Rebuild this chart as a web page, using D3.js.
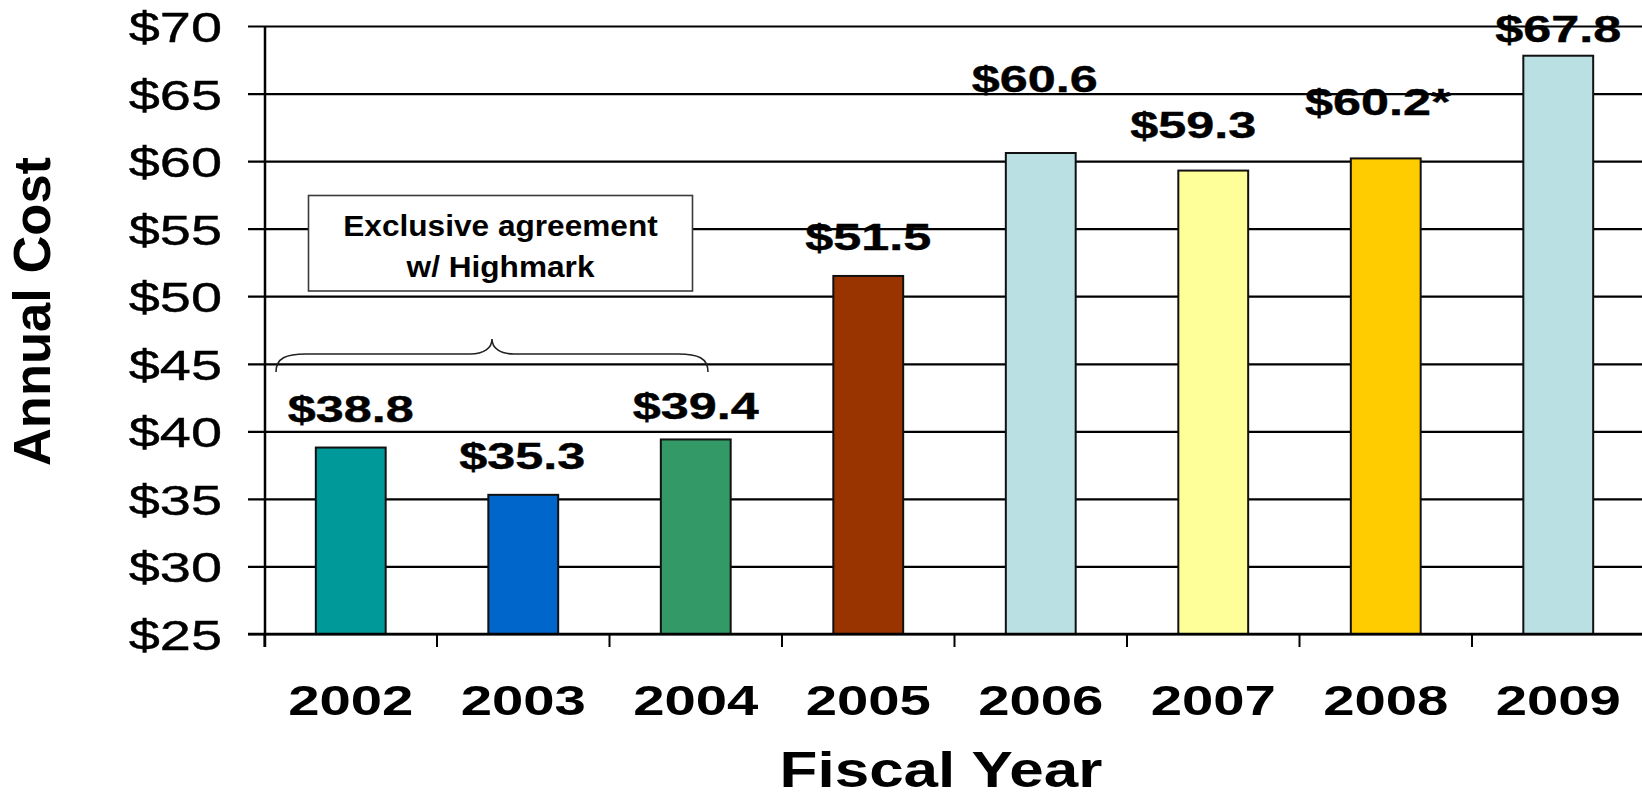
<!DOCTYPE html>
<html>
<head>
<meta charset="utf-8">
<script src="https://cdn.jsdelivr.net/npm/d3@7"></script>
<style>
  html, body { margin: 0; padding: 0; background: #fff; }
  svg { display: block; }
  text { font-family: "Liberation Sans", Arial, sans-serif; fill: #000; }
</style>
</head>
<body>
<svg id="chart" width="1642" height="798"></svg>
<script>
// Annual cost by fiscal year (millions of dollars)
const years = ["2002", "2003", "2004", "2005", "2006", "2007", "2008", "2009"];
const costs = [38.8, 35.3, 39.4, 51.5, 60.6, 59.3, 60.2, 67.8];
const costLabels = ["$38.8", "$35.3", "$39.4", "$51.5", "$60.6", "$59.3", "$60.2*", "$67.8"];
const barColors = ["#009999", "#0066CC", "#339966", "#993300", "#BBE0E3", "#FFFF99", "#FFCC00", "#BBE0E3"];
const yTicks = [25, 30, 35, 40, 45, 50, 55, 60, 65, 70];
const yTickLabels = ["$25", "$30", "$35", "$40", "$45", "$50", "$55", "$60", "$65", "$70"];
const noteLines = ["Exclusive agreement", "w/ Highmark"];

const svg = d3.select("#chart");
const W = 1642, H = 798;

const x = d3.scaleBand().domain(years).range([264.5, 1644.5]).padding(0);
const y = d3.scaleLinear().domain([25, 70]).range([634, 26]);
const barW = x.bandwidth() * 0.405;

// horizontal gridlines (extend left of the axis as tick marks)
const yAxis = d3.axisRight(y).tickValues(yTicks).tickSize(W - 248).tickFormat("");
svg.append("g")
  .attr("transform", "translate(248,0)")
  .call(yAxis)
  .call(g => g.select(".domain").remove())
  .call(g => g.selectAll(".tick line").attr("stroke", "#000").attr("stroke-width", 2.2));

// y tick labels, widened horizontally
svg.append("g").selectAll("text")
  .data(yTicks)
  .join("text")
  .attr("transform", d => `translate(222,${y(d) + 16}) scale(1.3,1)`)
  .attr("text-anchor", "end")
  .attr("font-size", 43)
  .attr("stroke", "#000")
  .attr("stroke-width", 0.4)
  .text((d, i) => yTickLabels[i]);

// x axis category ticks at band boundaries
svg.append("g").selectAll("line")
  .data(years)
  .join("line")
  .attr("x1", d => x(d)).attr("x2", d => x(d))
  .attr("y1", y(25)).attr("y2", y(25) + 13)
  .attr("stroke", "#000").attr("stroke-width", 2);

// bars
svg.append("g").selectAll("rect")
  .data(costs)
  .join("rect")
  .attr("x", (d, i) => x(years[i]) + x.bandwidth() / 2 - barW / 2)
  .attr("y", d => y(d))
  .attr("width", barW)
  .attr("height", d => y(25) - y(d))
  .attr("fill", (d, i) => barColors[i])
  .attr("stroke", "#111")
  .attr("stroke-width", 2);

// x baseline and y axis line
svg.append("line")
  .attr("x1", 248).attr("x2", W)
  .attr("y1", y(25)).attr("y2", y(25))
  .attr("stroke", "#000").attr("stroke-width", 2.5);
svg.append("line")
  .attr("x1", x.range()[0] + 0.5).attr("x2", x.range()[0] + 0.5)
  .attr("y1", y(70)).attr("y2", y(25) + 13)
  .attr("stroke", "#000").attr("stroke-width", 2.5);

// year labels
svg.append("g").selectAll("text")
  .data(years)
  .join("text")
  .attr("transform", d => `translate(${x(d) + x.bandwidth() / 2},715) scale(1.34,1)`)
  .attr("text-anchor", "middle")
  .attr("font-size", 42)
  .attr("font-weight", "bold")
  .text(d => d);

// value labels: [dx from bar centre, lift above bar top]
const labelNudge = [[0, 26], [-1, 25.5], [0, 20], [0, 26], [-6, 61.3], [-20, 32.3], [-8, 43.4], [0, 13.4]];
svg.append("g").selectAll("text")
  .data(costs)
  .join("text")
  .attr("transform", (d, i) =>
    `translate(${x(years[i]) + x.bandwidth() / 2 + labelNudge[i][0]},${y(d) - labelNudge[i][1]}) scale(1.36,1)`)
  .attr("text-anchor", "middle")
  .attr("font-size", 37)
  .attr("font-weight", "bold")
  .attr("stroke", "#000")
  .attr("stroke-width", 0.4)
  .text((d, i) => costLabels[i]);

// callout box
svg.append("rect")
  .attr("x", 308.5).attr("y", 195.5)
  .attr("width", 384).attr("height", 95.5)
  .attr("fill", "#fff")
  .attr("stroke", "#3a3a3a").attr("stroke-width", 1.6);
svg.append("g").selectAll("text")
  .data(noteLines)
  .join("text")
  .attr("transform", (d, i) => `translate(500.5,${236 + i * 40.7}) scale(1.09,1)`)
  .attr("text-anchor", "middle")
  .attr("font-size", 29)
  .attr("font-weight", "bold")
  .text(d => d);

// brace spanning 2002–2004
const bx0 = 276, bx1 = 708, bmid = 492, by0 = 372, byL = 354, byT = 339;
const brace = d3.path();
brace.moveTo(bx0, by0);
brace.bezierCurveTo(bx0, by0 - 14, bx0 + 10, byL, bx0 + 30, byL);
brace.lineTo(bmid - 22, byL);
brace.bezierCurveTo(bmid - 8, byL, bmid, byL - 6, bmid, byT);
brace.bezierCurveTo(bmid, byL - 6, bmid + 8, byL, bmid + 22, byL);
brace.lineTo(bx1 - 30, byL);
brace.bezierCurveTo(bx1 - 10, byL, bx1, by0 - 14, bx1, by0);
svg.append("path")
  .attr("d", brace.toString())
  .attr("fill", "none")
  .attr("stroke", "#222")
  .attr("stroke-width", 1.6);

// axis titles
svg.append("text")
  .attr("transform", "translate(941,787) scale(1.24,1)")
  .attr("text-anchor", "middle")
  .attr("font-size", 50)
  .attr("font-weight", "bold")
  .text("Fiscal Year");
svg.append("text")
  .attr("transform", "translate(50,311.5) rotate(-90)")
  .attr("text-anchor", "middle")
  .attr("font-size", 52.5)
  .attr("font-weight", "bold")
  .text("Annual Cost");
</script>
</body>
</html>
